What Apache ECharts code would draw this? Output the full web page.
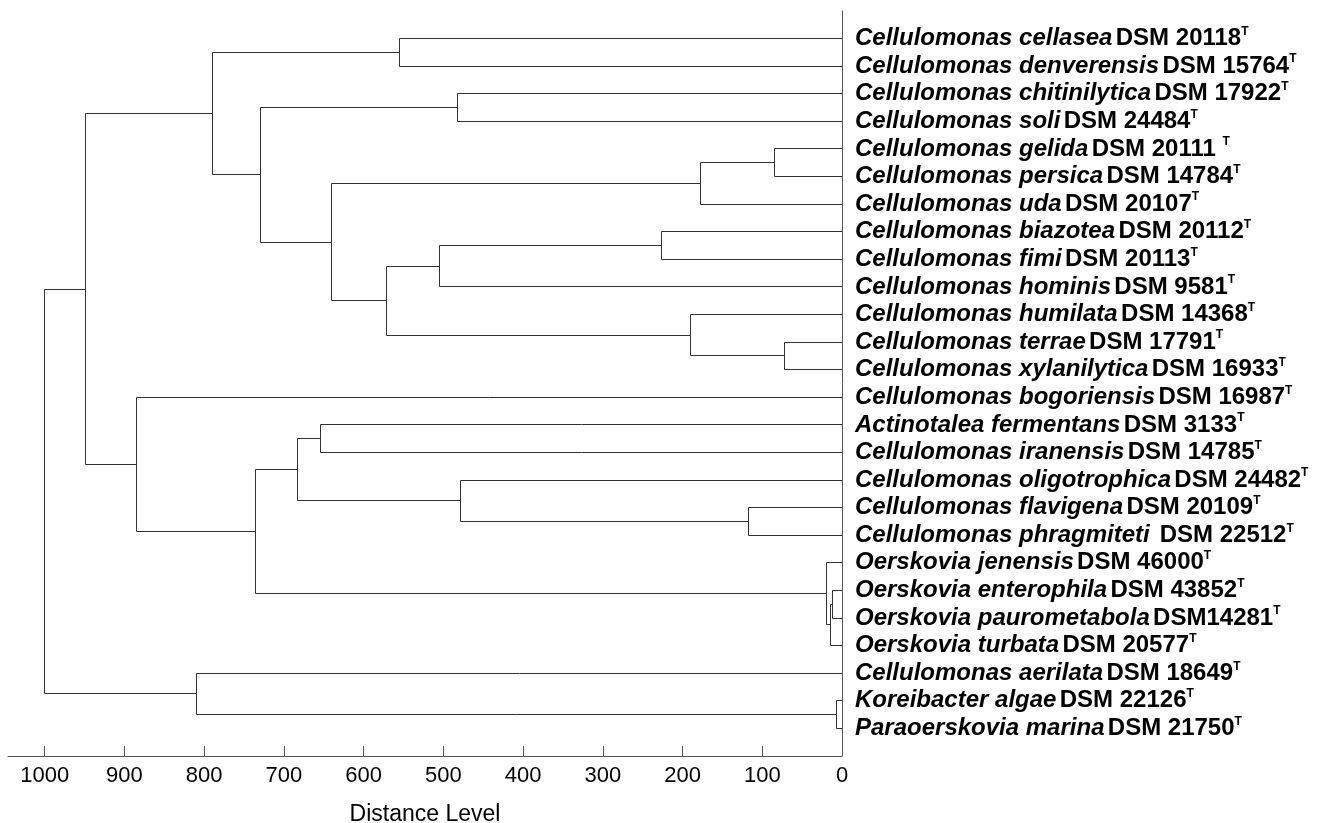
<!DOCTYPE html>
<html>
<head>
<meta charset="utf-8">
<script src="https://cdn.jsdelivr.net/npm/echarts@6/dist/echarts.min.js"></script>
<style>
  html, body { margin: 0; padding: 0; background: #fff; }
  #chart { width: 1332px; height: 823px; }
</style>
</head>
<body>
<div id="chart"></div>
<script>
// leaf labels, top to bottom (italic part + strain part)
const leafTaxa = [
  "Cellulomonas cellasea", "Cellulomonas denverensis", "Cellulomonas chitinilytica",
  "Cellulomonas soli", "Cellulomonas gelida", "Cellulomonas persica", "Cellulomonas uda",
  "Cellulomonas biazotea", "Cellulomonas fimi", "Cellulomonas hominis",
  "Cellulomonas humilata", "Cellulomonas terrae", "Cellulomonas xylanilytica",
  "Cellulomonas bogoriensis", "Actinotalea fermentans", "Cellulomonas iranensis",
  "Cellulomonas oligotrophica", "Cellulomonas flavigena", "Cellulomonas phragmiteti",
  "Oerskovia jenensis", "Oerskovia enterophila", "Oerskovia paurometabola",
  "Oerskovia turbata", "Cellulomonas aerilata", "Koreibacter algae", "Paraoerskovia marina"
];
const leafStrains = [
  "DSM 20118", "DSM 15764", "DSM 17922", "DSM 24484", "DSM 20111 ", "DSM 14784",
  "DSM 20107", "DSM 20112", "DSM 20113", "DSM 9581", "DSM 14368", "DSM 17791",
  "DSM 16933", "DSM 16987", "DSM 3133", "DSM 14785", "DSM 24482", "DSM 20109",
  " DSM 22512", "DSM 46000", "DSM 43852", "DSM14281", "DSM 20577", "DSM 18649",
  "DSM 22126", "DSM 21750"
];

// linkage: [childA, childB, distance]; ids >= 26 refer to earlier rows (26 + row)
const linkage = [
  [0, 1, 555], [2, 3, 482], [4, 5, 85], [28, 6, 177], [7, 8, 227],
  [30, 9, 505], [11, 12, 72], [10, 32, 190], [31, 33, 571], [29, 34, 640],
  [27, 35, 729], [26, 36, 789], [14, 15, 654], [17, 18, 117], [16, 39, 479],
  [38, 40, 683], [20, 21, 12], [42, 22, 14], [19, 43, 19], [41, 44, 736],
  [13, 45, 885], [37, 46, 949], [24, 25, 7], [23, 48, 809], [47, 49, 1000]
];

const xTicks = [0, 100, 200, 300, 400, 500, 600, 700, 800, 900, 1000];

// work out node positions (leaf index for y, merge distance for x)
const nLeaf = leafTaxa.length;
const nodeY = [];
const nodeH = [];
for (let i = 0; i < nLeaf; i++) { nodeY.push(i); nodeH.push(0); }
const links = [];
linkage.forEach(([a, b, h]) => {
  links.push([h, nodeY[a], nodeY[b], nodeH[a], nodeH[b]]);
  nodeY.push((nodeY[a] + nodeY[b]) / 2);
  nodeH.push(h);
});

const chart = echarts.init(document.getElementById('chart'));
const crisp = (v) => Math.round(v - 0.5) + 0.5;

const option = {
  animation: false,
  backgroundColor: '#fff',
  textStyle: { fontFamily: 'Liberation Sans, Arial, sans-serif' },
  grid: { left: 8, right: 490, top: 11, bottom: 67, outerBoundsMode: 'none', containLabel: false },
  xAxis: {
    type: 'value',
    inverse: true,
    position: 'bottom',
    min: 0,
    max: 1046,
    name: 'Distance Level',
    nameLocation: 'middle',
    nameGap: 47,
    nameTextStyle: { fontSize: 23, color: '#000' },
    axisLine: { onZero: false, lineStyle: { color: '#555', width: 1 } },
    axisTick: { inside: true, length: 10, customValues: xTicks, lineStyle: { color: '#555' } },
    axisLabel: { customValues: xTicks, fontSize: 22, color: '#000', margin: 9, formatter: (v) => String(v) },
    splitLine: { show: false }
  },
  yAxis: {
    type: 'value',
    inverse: true,
    position: 'right',
    min: -1,
    max: 26,
    interval: 1,
    axisLine: { show: true, onZero: false, lineStyle: { color: '#555', width: 1 } },
    axisTick: { show: false },
    splitLine: { show: false },
    axisLabel: {
      margin: 13,
      showMinLabel: false,
      showMaxLabel: false,
      formatter: (v) => {
        const i = Math.round(v);
        if (i < 0 || i >= nLeaf) return '';
        return '{i|' + leafTaxa[i] + '} {b|' + leafStrains[i] + '}{t|T}';
      },
      rich: {
        i: { fontSize: 24, fontWeight: 'bold', fontStyle: 'italic', color: '#000', lineHeight: 26 },
        b: { fontSize: 24, fontWeight: 'bold', color: '#000', lineHeight: 26 },
        t: { fontSize: 12, fontWeight: 'bold', color: '#000', verticalAlign: 'top', lineHeight: 14 }
      }
    }
  },
  series: [{
    type: 'custom',
    coordinateSystem: 'cartesian2d',
    data: links,
    encode: { x: 0, y: [1, 2] },
    renderItem: (params, api) => {
      const h = api.value(0), ya = api.value(1), yb = api.value(2);
      const ha = api.value(3), hb = api.value(4);
      const pts = [
        api.coord([ha, ya]), api.coord([h, ya]),
        api.coord([h, yb]), api.coord([hb, yb])
      ].map((p) => [crisp(p[0]), crisp(p[1])]);
      return {
        type: 'polyline',
        shape: { points: pts },
        style: { fill: null, stroke: '#333', lineWidth: 1 }
      };
    }
  }]
};

chart.setOption(option);
</script>
</body>
</html>
